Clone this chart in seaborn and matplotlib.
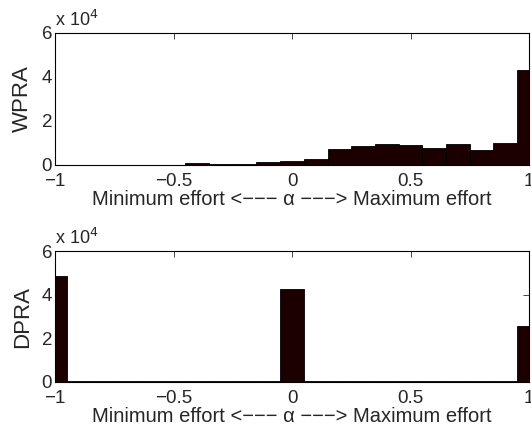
import pandas as pd
import matplotlib
matplotlib.use("Agg")
import matplotlib.pyplot as plt
import seaborn as sns

sns.set_style("white")
plt.rcParams['font.family'] = ['Liberation Sans', 'DejaVu Sans']

# bin centres of the alpha histogram (-1:0.1:1)
centers = [-1.0, -0.9, -0.8, -0.7, -0.6, -0.5, -0.4, -0.3, -0.2, -0.1, 0.0,
           0.1, 0.2, 0.3, 0.4, 0.5, 0.6, 0.7, 0.8, 0.9, 1.0]

wpra = [0, 0, 0, 0, 0, 0, 900, 500, 500, 1200, 2000,
        2500, 7100, 8600, 9700, 8900, 7700, 9400, 6800, 10100, 43200]

dpra = [48700, 500, 500, 500, 500, 500, 500, 500, 500, 500, 42700,
        500, 500, 500, 500, 500, 500, 500, 500, 500, 25800]

xticks = [-1, -0.5, 0, 0.5, 1]
xticklabels = ['\u22121', '\u22120.5', '0', '0.5', '1']
yticks = [0, 20000, 40000, 60000]
yticklabels = ['0', '2', '4', '6']

xlabel = 'Minimum effort <\u2212\u2212\u2212 \u03b1 \u2212\u2212\u2212> Maximum effort'

fig = plt.figure(figsize=(5.31, 4.33), dpi=100)
ax1 = fig.add_axes([0.1036, 0.619, 0.8927, 0.305])
ax2 = fig.add_axes([0.1036, 0.1178, 0.8927, 0.3025])

for ax, counts, name in [(ax1, wpra, 'WPRA'), (ax2, dpra, 'DPRA')]:
    df = pd.DataFrame({'alpha': centers, 'count': counts})
    sns.histplot(data=df, x='alpha', weights='count', binwidth=0.1,
                 binrange=(-1.05, 1.05), ax=ax,
                 color='#1c0000', edgecolor='black', linewidth=0.6, alpha=1)
    ax.set_xlim(-1, 1)
    ax.set_ylim(0, 60000)
    ax.set_xticks(xticks)
    ax.set_xticklabels(xticklabels, fontsize=13.5)
    ax.set_yticks(yticks)
    ax.set_yticklabels(yticklabels, fontsize=13.5)
    ax.tick_params(axis='x', pad=6)
    ax.tick_params(axis='y', pad=2)
    ax.tick_params(direction='in', top=True, right=True, length=4,
                   width=0.6)
    ax.set_xlabel(xlabel, fontsize=14.5, labelpad=0)
    ax.set_ylabel(name, fontsize=16, labelpad=6)
    for s in ax.spines.values():
        s.set_color('black')
        s.set_linewidth(0.8)
    ax.text(0.0, 1.02, 'x 10$^4$', transform=ax.transAxes, fontsize=13,
            ha='left', va='bottom')

fig.savefig('out.png', dpi=100)
